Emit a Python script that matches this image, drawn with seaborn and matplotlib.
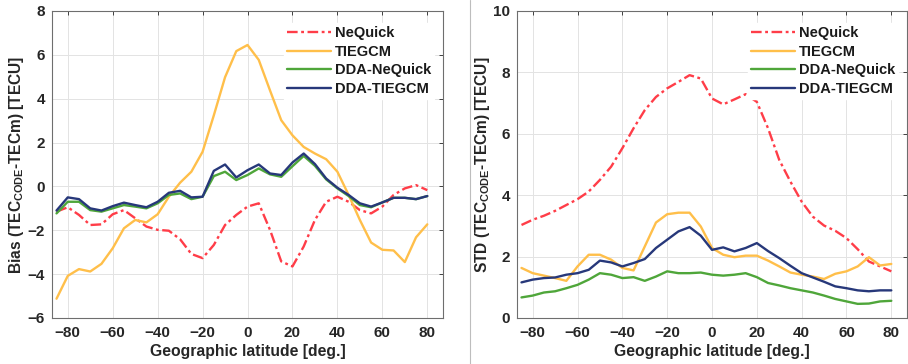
import numpy as np
import pandas as pd
import seaborn as sns
import matplotlib.pyplot as plt
from matplotlib.lines import Line2D

# latitudes of the points (5 deg step)
lat = list(range(-85, 81, 5))

# Bias (left panel)
bias_nequick = [-1.15, -0.95, -1.3, -1.76, -1.73, -1.27, -1.08, -1.45, -1.83, -1.98,
                -2.02, -2.41, -3.08, -3.27, -2.67, -1.76, -1.3, -0.92, -0.77, -1.98,
                -3.42, -3.65, -2.74, -1.53, -0.7, -0.47, -0.7, -1.08, -1.23, -0.92,
                -0.39, -0.09, 0.06, -0.17]
bias_tiegcm = [-5.12, -4.08, -3.77, -3.88, -3.53, -2.82, -1.91, -1.53, -1.64, -1.27,
               -0.47, 0.17, 0.67, 1.58, 3.24, 4.98, 6.17, 6.45, 5.77, 4.38,
               3.02, 2.33, 1.8, 1.5, 1.24, 0.67, -0.39, -1.53, -2.56, -2.89,
               -2.92, -3.45, -2.32, -1.73]
bias_dda_nequick = [-1.23, -0.7, -0.7, -1.08, -1.15, -1.0, -0.85, -0.92, -1.0, -0.77,
                    -0.39, -0.32, -0.58, -0.47, 0.47, 0.67, 0.29, 0.52, 0.82, 0.55,
                    0.44, 0.92, 1.39, 0.94, 0.32, -0.09, -0.44, -0.85, -0.95, -0.73,
                    -0.52, -0.52, -0.58, -0.44]
bias_dda_tiegcm = [-1.1, -0.5, -0.58, -1.0, -1.1, -0.9, -0.74, -0.85, -0.95, -0.7,
                   -0.29, -0.2, -0.5, -0.47, 0.71, 1.0, 0.41, 0.74, 1.0, 0.59,
                   0.52, 1.09, 1.5, 1.02, 0.36, -0.06, -0.39, -0.77, -0.92, -0.73,
                   -0.52, -0.52, -0.58, -0.44]

# STD (right panel)
std_nequick = [3.03, 3.2, 3.33, 3.49, 3.68, 3.87, 4.12, 4.5, 4.93, 5.53,
               6.18, 6.77, 7.2, 7.48, 7.69, 7.91, 7.8, 7.15, 6.96, 7.12,
               7.29, 7.04, 6.18, 5.15, 4.44, 3.79, 3.3, 3.01, 2.84, 2.6,
               2.24, 1.84, 1.68, 1.52]
std_tiegcm = [1.63, 1.46, 1.38, 1.3, 1.21, 1.68, 2.06, 2.06, 1.9, 1.63,
              1.55, 2.33, 3.11, 3.38, 3.43, 3.43, 2.98, 2.28, 2.06, 1.98,
              2.03, 2.03, 1.87, 1.68, 1.48, 1.41, 1.35, 1.27, 1.44, 1.52,
              1.68, 1.98, 1.71, 1.76]
std_dda_nequick = [0.67, 0.73, 0.83, 0.87, 0.97, 1.08, 1.25, 1.46, 1.41, 1.3,
                   1.33, 1.21, 1.35, 1.52, 1.46, 1.46, 1.48, 1.41, 1.38, 1.41,
                   1.46, 1.33, 1.14, 1.06, 0.97, 0.9, 0.83, 0.73, 0.62, 0.54,
                   0.46, 0.47, 0.54, 0.56]
std_dda_tiegcm = [1.16, 1.25, 1.3, 1.32, 1.41, 1.46, 1.57, 1.87, 1.81, 1.68,
                  1.79, 1.92, 2.28, 2.55, 2.82, 2.96, 2.68, 2.22, 2.3, 2.17,
                  2.28, 2.44, 2.18, 1.95, 1.7, 1.46, 1.32, 1.18, 1.03, 0.97,
                  0.9, 0.87, 0.9, 0.9]

names = ['NeQuick', 'TIEGCM', 'DDA-NeQuick', 'DDA-TIEGCM']
colors = ['#ff3d48', '#ffbf4a', '#4fa63a', '#27387a']
dashdot = (4.5, 1.5, 1.2, 1.5)

sns.set_theme(style='whitegrid')
plt.rcParams['font.family'] = ['Liberation Sans', 'DejaVu Sans']
plt.rcParams['font.weight'] = 'bold'
plt.rcParams['mathtext.fontset'] = 'custom'
plt.rcParams['mathtext.rm'] = 'Liberation Sans:bold'
plt.rcParams['mathtext.bf'] = 'Liberation Sans:bold'

fig = plt.figure(figsize=(9.08, 3.64), dpi=100)
ax1 = fig.add_axes([0.0573, 0.1264, 0.4306, 0.8434])
ax2 = fig.add_axes([0.5694, 0.1264, 0.4295, 0.8434])

panels = [
    (ax1, [bias_nequick, bias_tiegcm, bias_dda_nequick, bias_dda_tiegcm],
     r'Bias (TEC$_{\mathbf{CODE}}$-TECm) [TECU]', (-6, 8), np.arange(-6, 9, 2)),
    (ax2, [std_nequick, std_tiegcm, std_dda_nequick, std_dda_tiegcm],
     r'STD (TEC$_{\mathbf{CODE}}$-TECm) [TECU]', (0, 10), np.arange(0, 11, 2)),
]

for ax, series, ylab, ylim, yticks in panels:
    for name, vals, col in zip(names, series, colors):
        df = pd.DataFrame({'lat': lat, 'val': vals})
        sns.lineplot(data=df, x='lat', y='val', ax=ax, color=col, lw=1.7,
                     legend=False)
        if name == 'NeQuick':
            ax.lines[-1].set_dashes(dashdot)
    ax.set_xlim(-87, 87)
    ax.set_ylim(*ylim)
    ax.set_xticks(np.arange(-80, 81, 20))
    ax.set_yticks(yticks)
    ax.set_xlabel('Geographic latitude [deg.]', fontsize=11.3, fontweight='bold',
                  color='#262626', labelpad=3)
    ax.set_ylabel(ylab, fontsize=11.2, fontweight='bold', color='#262626', labelpad=1)
    ax.tick_params(axis='both', labelsize=11, colors='#262626', direction='in',
                   length=3, width=0.6, top=True, right=True)
    ax.tick_params(axis='x', pad=6)
    ax.tick_params(axis='y', pad=5)
    for lab in ax.get_xticklabels() + ax.get_yticklabels():
        lab.set_fontweight('bold')
    ax.grid(True, color='#e3e3e3', lw=0.7)
    for sp in ax.spines.values():
        sp.set_color('#6e6e6e')
        sp.set_linewidth(0.8)
    handles = [Line2D([], [], color=colors[0], lw=1.7, dashes=dashdot)]
    handles += [Line2D([], [], color=c, lw=1.7) for c in colors[1:]]
    leg = ax.legend(handles, names, loc='upper right', bbox_to_anchor=(1.0, 0.989),
                    fontsize=10.5, frameon=True,
                    facecolor='white', edgecolor='white', framealpha=1,
                    handlelength=3.0, handletextpad=0.3, labelspacing=0.32,
                    borderpad=0.2, borderaxespad=0.6, fancybox=False)
    for t in leg.get_texts():
        t.set_fontweight('bold')
        t.set_color('#1a1a1a')

# thin separator between the two panels
fig.add_artist(Line2D([0.5176, 0.5176], [0, 1], color='#bdbdbd', lw=0.8,
                      transform=fig.transFigure))

fig.savefig('out.png', dpi=100)
